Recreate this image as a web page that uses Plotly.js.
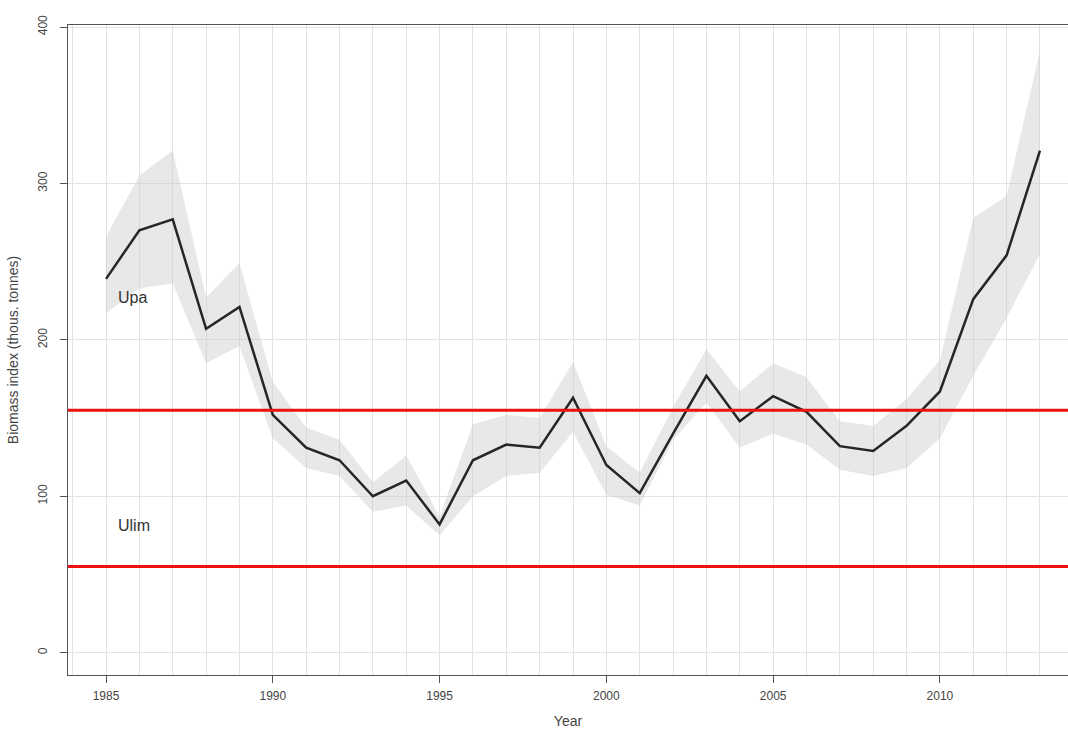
<!DOCTYPE html>
<html>
<head>
<meta charset="utf-8">
<script src="https://cdn.plot.ly/plotly-3.0.1.min.js"></script>
<style>html,body{margin:0;padding:0;background:#fff;}#chart{width:1068px;height:729px;}</style>
</head>
<body>
<div id="chart"></div>
<script>
const years = [1985,1986,1987,1988,1989,1990,1991,1992,1993,1994,1995,1996,1997,1998,1999,2000,2001,2002,2003,2004,2005,2006,2007,2008,2009,2010,2011,2012,2013];
const biomass = [239,270,277,207,221,152,131,123,100,110,82,123,133,131,163,120,102,140,177,148,164,154,132,129,145,167,226,254,321];
const upper = [266,305,321,227,249,173,144,136,109,126,87,146,152,150,186,132,115,157,194,167,185,176,148,145,162,187,278,292,385];
const lower = [217,233,236,185,196,137,118,113,90,94,75,100,113,115,141,101,94,136,160,131,140,133,117,113,118,137,177,214,255];
const refNames = ["Upa","Ulim"];
const refValues = [155,55];
const labelPos = [[1985.3,227],[1985.3,81]];

const font = "Liberation Sans, Arial, Helvetica, sans-serif";

const traces = [
  {x: years, y: lower, mode:'lines', line:{width:0, color:'rgba(0,0,0,0)'}, hoverinfo:'skip', showlegend:false},
  {x: years, y: upper, mode:'lines', line:{width:0, color:'rgba(0,0,0,0)'}, fill:'tonexty', fillcolor:'rgba(205,205,205,0.45)', hoverinfo:'skip', showlegend:false},
  {x: years, y: biomass, mode:'lines', line:{width:2.5, color:'#262626'}, showlegend:false}
];

const shapes = refValues.map(v => ({type:'line', xref:'paper', x0:0, x1:1, yref:'y', y0:v, y1:v, line:{color:'#ee1111', width:3}, layer:'above'}));

const annotations = refNames.map((n,i) => ({x: labelPos[i][0], y: labelPos[i][1], xref:'x', yref:'y', text:n, showarrow:false, xanchor:'left', yanchor:'middle', font:{family:font, size:16, color:'#333'}}));

const layout = {
  width:1068, height:729,
  margin:{l:68, r:0, t:25, b:54},
  paper_bgcolor:'#fff', plot_bgcolor:'#fff',
  showlegend:false,
  font:{family:font, color:'#444'},
  xaxis:{
    range:[1983.86, 2013.84],
    tickmode:'linear', tick0:1985, dtick:5,
    ticks:'outside', ticklen:7, tickcolor:'#555', tickwidth:1,
    showline:true, linecolor:'#555', linewidth:1, mirror:true,
    showgrid:true, gridcolor:'#e2e2e2', gridwidth:1,
    minor:{dtick:1, tick0:1985, showgrid:true, gridcolor:'#e2e2e2', gridwidth:1, ticks:''},
    zeroline:false,
    ticklabelstandoff:3,
    tickfont:{family:font, size:12, color:'#444'},
    title:{text:'Year', font:{family:font, size:14, color:'#444'}, standoff:16}
  },
  yaxis:{
    range:[-14.3, 401.3],
    tickmode:'linear', tick0:0, dtick:100,
    ticks:'outside', ticklen:7, tickcolor:'#555', tickwidth:1,
    showline:true, linecolor:'#555', linewidth:1, mirror:false,
    showgrid:true, gridcolor:'#e2e2e2', gridwidth:1,
    zeroline:false,
    tickangle:-90,
    ticklabelstandoff:8,
    tickfont:{family:font, size:12, color:'#444'},
    title:{text:'Biomass index (thous. tonnes)', font:{family:font, size:14, color:'#444'}, standoff:14}
  },
  shapes: shapes,
  annotations: annotations
};

Plotly.newPlot('chart', traces, layout, {displayModeBar:false, staticPlot:true});
</script>
</body>
</html>
